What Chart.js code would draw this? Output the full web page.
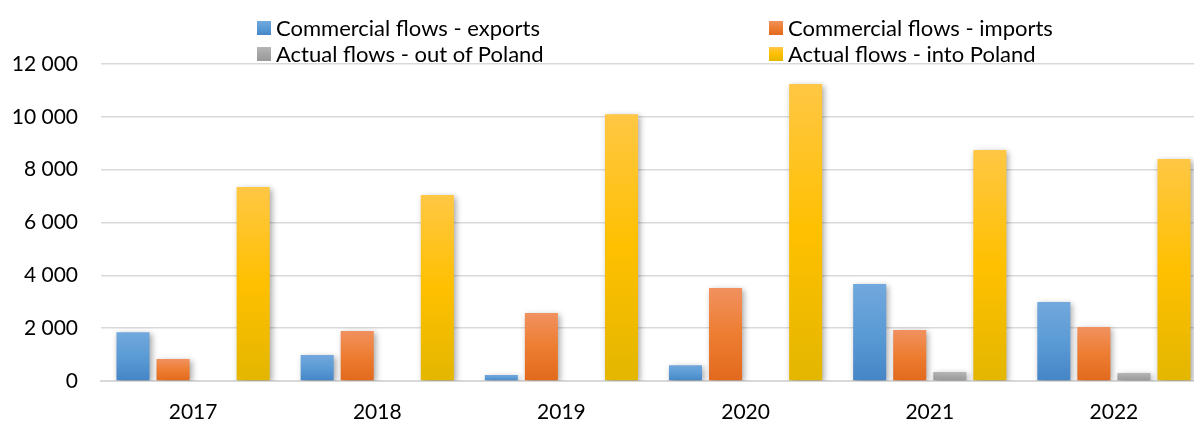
<!DOCTYPE html>
<html>
<head>
<meta charset="utf-8">
<script src="https://cdn.jsdelivr.net/npm/chart.js@4/dist/chart.umd.min.js"></script>
<style>
  html, body { margin: 0; padding: 0; overflow: hidden; background: #fff; }
  #wrap { position: relative; width: 1206px; height: 421px; }
  #legend { position: absolute; left: 0; top: 0; width: 1194px; height: 70px; font-family: Lato, sans-serif; font-size: 22px; color: #000; z-index: 2; }
  .item { position: absolute; height: 14px; line-height: 14px; white-space: nowrap; }
  .box { position: absolute; left: 0; top: 0; width: 14px; height: 14px; }
  .txt { position: absolute; left: 19px; top: 0; }
</style>
</head>
<body>
<div id="wrap">
  <div id="legend"></div>
  <canvas id="flowsChart"></canvas>
</div>
<script>
const years = ['2017', '2018', '2019', '2020', '2021', '2022'];
const seriesNames = ['Commercial flows - exports', 'Commercial flows - imports', 'Actual flows - out of Poland', 'Actual flows - into Poland'];
const exportsVals = [1850, 980, 230, 600, 3670, 2990];
const importsVals = [830, 1890, 2570, 3520, 1930, 2040];
const outVals = [0, 0, 0, 0, 340, 300];
const intoVals = [7340, 7040, 10100, 11240, 8740, 8400];
const yTickLabels = ['0', '2 000', '4 000', '6 000', '8 000', '10 000', '12 000'];

// light top, base middle, dark bottom
const palettes = [
    ['#72a8dd', '#5b9bd5', '#4585c6'],
    ['#f1915f', '#ed7d31', '#e2691d'],
    ['#b6b6b6', '#a5a5a5', '#999999'],
    ['#ffc744', '#ffc000', '#e3b600']
];

function barFill(pal) {
    return function(c) {
        const chart = c.chart;
        if (!chart.chartArea || c.parsed === undefined) return pal[1];
        const y = chart.scales.y;
        const top = y.getPixelForValue(c.parsed.y);
        const bottom = y.getPixelForValue(0);
        if (bottom - top < 1) return pal[1];
        const g = chart.ctx.createLinearGradient(0, top, 0, bottom);
        g.addColorStop(0, pal[0]);
        g.addColorStop(0.5, pal[1]);
        g.addColorStop(1, pal[2]);
        return g;
    };
}

const barShadow = {
    id: 'barShadow',
    beforeDatasetsDraw(chart) {
        const ctx = chart.ctx;
        ctx.save();
        ctx.shadowColor = 'rgba(0, 0, 0, 0.35)';
        ctx.shadowBlur = 6;
        ctx.shadowOffsetX = 2;
        ctx.shadowOffsetY = 2;
    },
    afterDatasetsDraw(chart) {
        chart.ctx.restore();
    }
};

const values = [exportsVals, importsVals, outVals, intoVals];

const ctx = document.getElementById('flowsChart').getContext('2d');
const flowsChart = new Chart(ctx, {
    type: 'bar',
    data: {
        labels: years,
        datasets: values.map((v, i) => ({
            label: seriesNames[i],
            data: v,
            backgroundColor: barFill(palettes[i]),
            borderWidth: 0,
            categoryPercentage: 0.87,
            barPercentage: 0.825
        }))
    },
    options: {
        responsive: true,
        maintainAspectRatio: false,
        animation: false,
        layout: {
            padding: { top: 64, left: 0, right: 0, bottom: 0 }
        },
        plugins: {
            legend: { display: false },
            tooltip: { enabled: false }
        },
        scales: {
            x: {
                afterFit: function(scale) { scale.height = 40; },
                grid: { display: false, drawTicks: false },
                border: { display: true, color: '#d9d9d9', width: 2 },
                ticks: {
                    color: '#000',
                    padding: 19,
                    font: { family: 'Lato', size: 21 }
                }
            },
            y: {
                min: 0,
                max: 12000,
                afterFit: function(scale) { scale.width = 101; },
                grid: { color: '#d9d9d9', lineWidth: 1.5, drawTicks: false },
                border: { display: false },
                ticks: {
                    stepSize: 2000,
                    color: '#000',
                    padding: 23,
                    font: { family: 'Lato', size: 21 },
                    callback: function(value) { return yTickLabels[value / 2000]; }
                }
            }
        }
    },
    plugins: [barShadow]
});

// legend laid out as a 2x2 grid like the original
const legend = document.getElementById('legend');
const colLeft = [257, 769];
const rowTop = [21, 47];
flowsChart.data.datasets.forEach(function(ds, i) {
    const pal = palettes[i];
    const item = document.createElement('div');
    item.className = 'item';
    item.style.left = colLeft[i % 2] + 'px';
    item.style.top = rowTop[Math.floor(i / 2)] + 'px';
    const box = document.createElement('span');
    box.className = 'box';
    box.style.background = 'linear-gradient(' + pal[0] + ', ' + pal[1] + ' 50%, ' + pal[2] + ')';
    const txt = document.createElement('span');
    txt.className = 'txt';
    txt.textContent = ds.label;
    item.appendChild(box);
    item.appendChild(txt);
    legend.appendChild(item);
});
</script>
</body>
</html>
